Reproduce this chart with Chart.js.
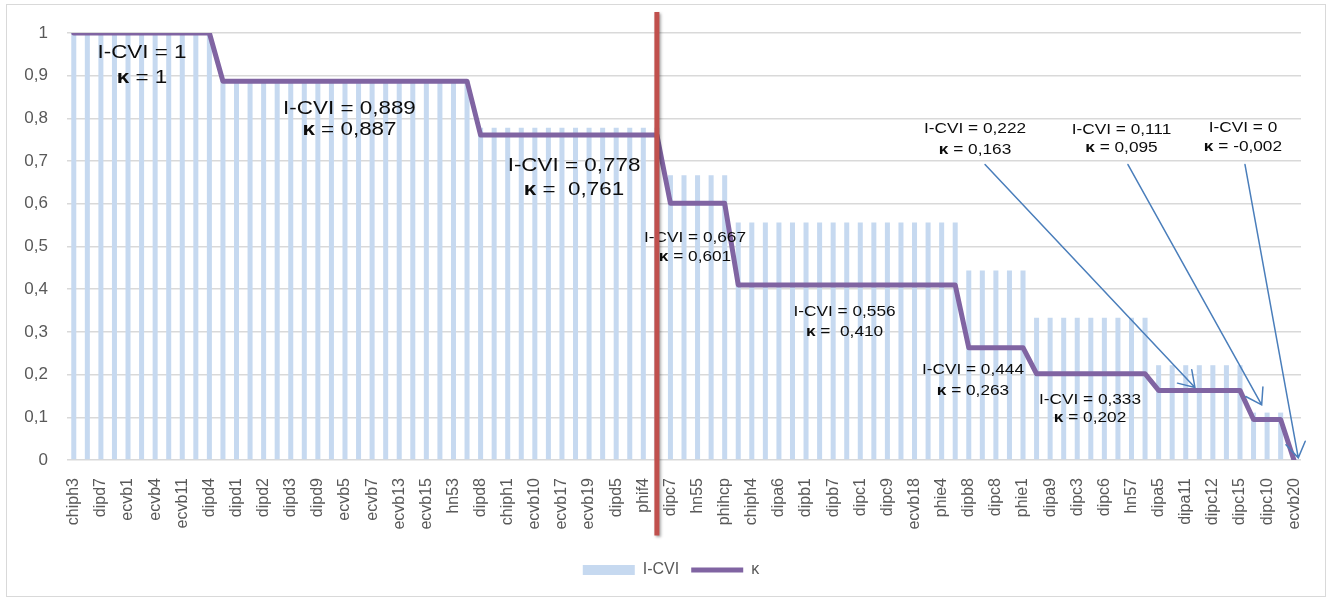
<!DOCTYPE html>
<html>
<head>
<meta charset="utf-8">
<script src="https://cdn.jsdelivr.net/npm/chart.js@4.4.1/dist/chart.umd.min.js"></script>
<style>
html,body{margin:0;padding:0;background:#ffffff;}
#wrap{width:1334px;height:601px;position:relative;}
canvas{display:block;}
</style>
</head>
<body>
<div id="wrap"><canvas id="c" width="1334" height="601"></canvas></div>
<script>
// ---- data ----
const categories = [
  'chiph3','', 'dipd7','', 'ecvb1','', 'ecvb4','', 'ecvb11','', 'dipd4','',
  'dipd1','', 'dipd2','', 'dipd3','', 'dipd9','', 'ecvb5','', 'ecvb7','',
  'ecvb13','', 'ecvb15','', 'hn53','', 'dipd8','', 'chiph1','', 'ecvb10','',
  'ecvb17','', 'ecvb19','', 'dipd5','', 'phif4','', 'dipc7','', 'hn55','',
  'phihcp','', 'chiph4','', 'dipa6','', 'dipb1','', 'dipb7','', 'dipc1','',
  'dipc9','', 'ecvb18','', 'phie4','', 'dipb8','', 'dipc8','', 'phie1','',
  'dipa9','', 'dipc3','', 'dipc6','', 'hn57','', 'dipa5','', 'dipa11','',
  'dipc12','', 'dipc15','', 'dipc10','', 'ecvb20'
];

const icviValues = [
  1, 1, 1, 1, 1, 1, 1, 1, 1, 1, 1,
  0.889, 0.889, 0.889, 0.889, 0.889, 0.889, 0.889, 0.889, 0.889, 0.889,
  0.889, 0.889, 0.889, 0.889, 0.889, 0.889, 0.889, 0.889, 0.889,
  0.778, 0.778, 0.778, 0.778, 0.778, 0.778, 0.778, 0.778, 0.778, 0.778,
  0.778, 0.778, 0.778, 0.778,
  0.667, 0.667, 0.667, 0.667, 0.667,
  0.556, 0.556, 0.556, 0.556, 0.556, 0.556, 0.556, 0.556, 0.556, 0.556,
  0.556, 0.556, 0.556, 0.556, 0.556, 0.556, 0.556,
  0.444, 0.444, 0.444, 0.444, 0.444,
  0.333, 0.333, 0.333, 0.333, 0.333, 0.333, 0.333, 0.333, 0.333,
  0.222, 0.222, 0.222, 0.222, 0.222, 0.222, 0.222,
  0.111, 0.111, 0.111,
  0
];

const kappaValues = [
  1, 1, 1, 1, 1, 1, 1, 1, 1, 1, 1,
  0.887, 0.887, 0.887, 0.887, 0.887, 0.887, 0.887, 0.887, 0.887, 0.887,
  0.887, 0.887, 0.887, 0.887, 0.887, 0.887, 0.887, 0.887, 0.887,
  0.761, 0.761, 0.761, 0.761, 0.761, 0.761, 0.761, 0.761, 0.761, 0.761,
  0.761, 0.761, 0.761, 0.761,
  0.601, 0.601, 0.601, 0.601, 0.601,
  0.410, 0.410, 0.410, 0.410, 0.410, 0.410, 0.410, 0.410, 0.410, 0.410,
  0.410, 0.410, 0.410, 0.410, 0.410, 0.410, 0.410,
  0.263, 0.263, 0.263, 0.263, 0.263,
  0.202, 0.202, 0.202, 0.202, 0.202, 0.202, 0.202, 0.202, 0.202,
  0.163, 0.163, 0.163, 0.163, 0.163, 0.163, 0.163,
  0.095, 0.095, 0.095,
  -0.002
];

const yTickLabels = ['0','0,1','0,2','0,3','0,4','0,5','0,6','0,7','0,8','0,9','1'];
const seriesNames = ['I-CVI', 'κ'];

// ---- annotations, anchored in data space (category index, value) ----
const noteLarge = [
  { x: 5.03,  lines: [['', 'I-CVI = 1', 0.953], ['κ', ' = 1', 0.895]] },
  { x: 20.33, lines: [['', 'I-CVI = 0,889', 0.822], ['κ', ' = 0,887', 0.774]] },
  { x: 36.89, lines: [['', 'I-CVI = 0,778', 0.690], ['κ', ' =  0,761', 0.632]] }
];
const noteSmall = [
  { x: 45.81, lines: [['', 'I-CVI = 0,667', 0.520], ['κ', ' = 0,601', 0.476]] },
  { x: 56.84, lines: [['', 'I-CVI = 0,556', 0.346], ['κ', ' =  0,410', 0.301]] },
  { x: 66.31, lines: [['', 'I-CVI = 0,444', 0.210], ['κ', ' = 0,263', 0.163]] },
  { x: 74.94, lines: [['', 'I-CVI = 0,333', 0.142], ['κ', ' = 0,202', 0.099]] },
  { x: 66.46, lines: [['', 'I-CVI = 0,222', 0.775], ['κ', ' = 0,163', 0.727]] },
  { x: 77.26, lines: [['', 'I-CVI = 0,111', 0.773], ['κ', ' = 0,095', 0.730]] },
  { x: 86.22, lines: [['', 'I-CVI = 0', 0.777], ['κ', ' = -0,002', 0.733]] }
];
const arrowNotes = [
  { from: [67.20, 0.692], to: [82.68, 0.170] },
  { from: [77.74, 0.692], to: [87.60, 0.129] },
  { from: [86.37, 0.692], to: [90.30, 0.005] }
];
const markerLine = { x: 43, top: 1.049, bottom: -0.177 };

const FONT = '"Liberation Sans", Arial, Helvetica, sans-serif';

const decorPlugin = {
  id: 'decor',
  afterLayout(chart) {
    // shift the legend's centring box like the reference
    if (chart.legend) { chart.legend.left += 41; }
  },
  beforeDraw(chart) {
    const ctx = chart.ctx;
    ctx.save();
    ctx.fillStyle = '#ffffff';
    ctx.fillRect(0, 0, chart.width, chart.height);
    ctx.strokeStyle = '#d9d9d9';
    ctx.lineWidth = 1;
    ctx.strokeRect(6.5, 4.5, 1319, 592);
    ctx.restore();
  },
  afterDatasetsDraw(chart) {
    const ctx = chart.ctx;
    const xs = chart.scales.x, ys = chart.scales.y;

    // annotation texts
    const drawNotes = (list, size, stretch) => {
      list.forEach(n => {
        const cx = xs.getPixelForValue(n.x);
        n.lines.forEach(([bold, rest, v]) => {
          const cy = ys.getPixelForValue(v);
          ctx.save();
          ctx.translate(cx, cy);
          ctx.scale(stretch, 1);
          ctx.textBaseline = 'middle';
          ctx.textAlign = 'left';
          ctx.fillStyle = '#0d0d0d';
          ctx.font = 'bold ' + size + 'px ' + FONT;
          const wb = bold ? ctx.measureText(bold).width : 0;
          ctx.font = size + 'px ' + FONT;
          const wr = ctx.measureText(rest).width;
          let x0 = -(wb + wr) / 2;
          if (bold) {
            ctx.font = 'bold ' + size + 'px ' + FONT;
            ctx.fillText(bold, x0, 0);
          }
          ctx.font = size + 'px ' + FONT;
          ctx.fillText(rest, x0 + wb, 0);
          ctx.restore();
        });
      });
    };
    drawNotes(noteLarge, 19, 1.18);
    drawNotes(noteSmall, 15, 1.15);

    // red marker line
    ctx.save();
    ctx.strokeStyle = '#c0504d';
    ctx.lineWidth = 5;
    ctx.shadowColor = 'rgba(0,0,0,0.35)';
    ctx.shadowBlur = 3;
    ctx.shadowOffsetX = 1.5;
    ctx.shadowOffsetY = 1.5;
    const mx = xs.getPixelForValue(markerLine.x);
    ctx.beginPath();
    ctx.moveTo(mx, ys.getPixelForValue(markerLine.top));
    ctx.lineTo(mx, ys.getPixelForValue(markerLine.bottom));
    ctx.stroke();
    ctx.restore();

    // arrows
    ctx.save();
    ctx.strokeStyle = '#4a7ebb';
    ctx.lineWidth = 1.5;
    ctx.lineCap = 'round';
    arrowNotes.forEach(a => {
      const x1 = xs.getPixelForValue(a.from[0]), y1 = ys.getPixelForValue(a.from[1]);
      const x2 = xs.getPixelForValue(a.to[0]), y2 = ys.getPixelForValue(a.to[1]);
      const ang = Math.atan2(y2 - y1, x2 - x1);
      ctx.beginPath();
      ctx.moveTo(x1, y1);
      ctx.lineTo(x2, y2);
      const L = 18, h = 33 * Math.PI / 180;
      ctx.moveTo(x2 - L * Math.cos(ang - h), y2 - L * Math.sin(ang - h));
      ctx.lineTo(x2, y2);
      ctx.lineTo(x2 - L * Math.cos(ang + h), y2 - L * Math.sin(ang + h));
      ctx.stroke();
    });
    ctx.restore();
  }
};

new Chart(document.getElementById('c'), {
  data: {
    labels: categories,
    datasets: [
      {
        type: 'bar',
        label: seriesNames[0],
        data: icviValues,
        backgroundColor: '#c6d9f0',
        borderWidth: 0,
        categoryPercentage: 1.0,
        barPercentage: 0.37,
        pointStyle: 'rect',
        order: 1
      },
      {
        type: 'line',
        label: seriesNames[1],
        data: kappaValues,
        borderColor: '#8064a2',
        backgroundColor: '#8064a2',
        borderWidth: 5,
        tension: 0,
        pointRadius: 0,
        pointHoverRadius: 0,
        pointStyle: 'line',
        pointBorderColor: '#8064a2',
        pointBorderWidth: 5,
        borderJoinStyle: 'round',
        borderCapStyle: 'round',
        order: 0
      }
    ]
  },
  options: {
    responsive: false,
    animation: false,
    devicePixelRatio: 1,
    layout: { padding: { left: 0, right: 33, top: 33, bottom: 13 } },
    plugins: {
      legend: {
        position: 'bottom',
        labels: {
          usePointStyle: true,
          pointStyleWidth: 52,
          boxHeight: 10,
          padding: 12,
          color: '#595959',
          font: { family: FONT, size: 16 },
          sort: (a, b) => a.datasetIndex - b.datasetIndex
        }
      },
      tooltip: { enabled: false }
    },
    scales: {
      x: {
        grid: { display: false },
        border: { display: false },
        ticks: {
          autoSkip: false,
          minRotation: 90,
          maxRotation: 90,
          padding: 10,
          color: '#595959',
          font: { family: FONT, size: 16 }
        },
        afterFit(scale) { scale.height = 90; }
      },
      y: {
        min: 0,
        max: 1,
        border: { display: false },
        grid: { color: '#d9d9d9', lineWidth: 1.5, drawTicks: false },
        ticks: {
          stepSize: 0.1,
          padding: 19,
          color: '#595959',
          font: { family: FONT, size: 17 },
          callback: (v, i) => yTickLabels[i]
        },
        afterFit(scale) { scale.width = 67; }
      }
    }
  },
  plugins: [decorPlugin]
});
</script>
</body>
</html>
